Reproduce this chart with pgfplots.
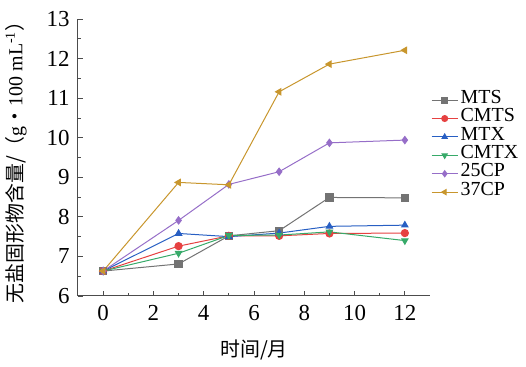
\documentclass[border=0pt]{standalone}
\usepackage{fontspec}
\setmainfont{Liberation Serif}
\newfontfamily\cjk{Noto Sans CJK SC}
\usepackage{pgfplots}
\pgfplotsset{compat=1.18}
\definecolor{cMTS}{RGB}{115,115,115}
\definecolor{cCMTS}{RGB}{230,65,65}
\definecolor{cMTX}{RGB}{40,95,195}
\definecolor{cCMTX}{RGB}{55,170,105}
\definecolor{c25}{RGB}{150,110,200}
\definecolor{c37}{RGB}{200,150,45}
\begin{document}
\begin{tikzpicture}
\begin{axis}[
 scale only axis, width=352bp, height=277bp,
 xmin=-1, xmax=13, ymin=6, ymax=13,
 axis lines=left, axis line style={-, line width=1bp, black!70},
 xtick={0,2,...,12}, ytick={6,...,13},
 minor x tick num=1, minor y tick num=1,
 tick align=inside, major tick length=5bp, minor tick length=3bp,
 tick style={black!70, line width=0.8bp},
 ticklabel style={font=\fontsize{23}{26}\selectfont},
 yticklabel shift=5bp,
 xticklabel shift=6bp,
 /pgf/number format/assume math mode=true,
 xlabel={\cjk\fontsize{20}{22}\selectfont 时间/月},
 xlabel style={at={(axis description cs:0.5,0)}, anchor=center, yshift=-54bp},
 ylabel={\fontsize{20}{22}\selectfont{\cjk 无盐固形物含量/（}g{\cjk •}100 mL\textsuperscript{-1}{\cjk ）}},
 ylabel style={at={(axis description cs:0,0.5)}, anchor=center, yshift=62bp},
 every axis plot/.append style={line width=1bp, mark size=3.6bp},
 legend image code/.code={\draw[mark repeat=2,mark phase=2, mark size=3bp] plot coordinates {(0bp,0bp)(13bp,0bp)(26bp,0bp)};},
 legend style={at={(1,0.741)}, anchor=north west, xshift=1bp, draw=none, fill=none, inner sep=0pt,
   font=\fontsize{20}{22}\selectfont, row sep=0pt,
   nodes={inner ysep=0pt, inner xsep=2.5bp, text height=12.4bp, text depth=6bp}},
 legend cell align=left,
]
\addplot[color=cMTS, mark=square*] coordinates {(0,6.63) (3,6.81) (5,7.52) (7,7.65) (9,8.49) (12,8.48)};
\addlegendentry{MTS}
\addplot[color=cCMTS, mark=*] coordinates {(0,6.63) (3,7.26) (5,7.52) (7,7.52) (9,7.58) (12,7.59)};
\addlegendentry{CMTS}
\addplot[color=cMTX, mark=triangle*] coordinates {(0,6.63) (3,7.58) (5,7.50) (7,7.59) (9,7.76) (12,7.79)};
\addlegendentry{MTX}
\addplot[color=cCMTX, mark=triangle*, mark options={rotate=180}] coordinates {(0,6.63) (3,7.08) (5,7.53) (7,7.54) (9,7.62) (12,7.40)};
\addlegendentry{CMTX}
\addplot[color=c25, mark=diamond*] coordinates {(0,6.63) (3,7.91) (5,8.82) (7,9.14) (9,9.87) (12,9.94)};
\addlegendentry{25CP}
\addplot[color=c37, mark=triangle*, mark options={rotate=90}] coordinates {(0,6.63) (3,8.87) (5,8.81) (7,11.16) (9,11.86) (12,12.21)};
\addlegendentry{37CP}
\end{axis}
\path (current axis.south west) ++(-78bp,-71bp);
\path (current axis.north east) ++(96bp,19bp);
\end{tikzpicture}
\end{document}
